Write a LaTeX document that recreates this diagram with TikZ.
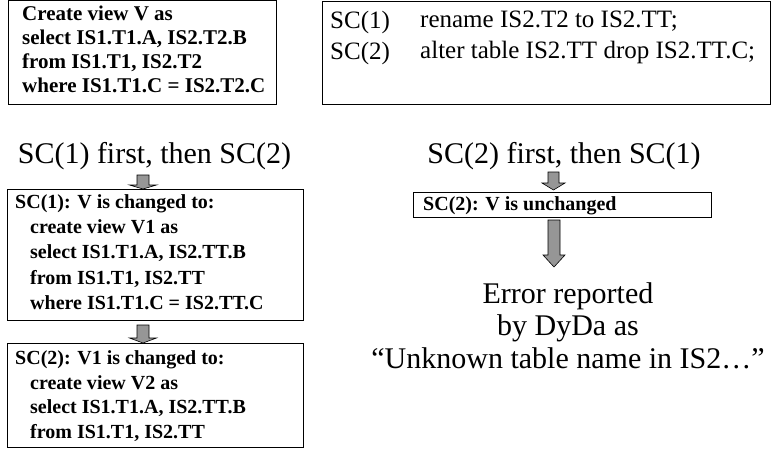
\documentclass[tikz,border=0pt]{standalone}
\usepackage{fontspec}
\setmainfont{Liberation Serif}
\definecolor{arrowgray}{RGB}{150,150,150}
\tikzset{
  box/.style={draw=black, line width=0.8pt, anchor=north west, inner sep=0pt},
  boxtext/.style={anchor=north west, inner sep=0pt, align=left},
  blockarrow/.style={draw=black, line width=0.6pt, fill=arrowgray, line join=miter}
}
% x, top, head start, tip, half shaft, half head
\newcommand{\garrow}[6]{%
  \draw[blockarrow] (#1-#5,#2) -- (#1+#5,#2) -- (#1+#5,#3) -- (#1+#6,#3)
    -- (#1,#4) -- (#1-#6,#3) -- (#1-#5,#3) -- cycle;}
\begin{document}
\begin{tikzpicture}[x=1pt,y=-1pt]
  \useasboundingbox (0,0) rectangle (776,450);
  % boxes
  \node[box, minimum width=268, minimum height=104] (view) at (8,0) {};
  \node[box, minimum width=448, minimum height=103] (sclist) at (322,1) {};
  \node[box, minimum width=296, minimum height=131] (change1) at (7,189) {};
  \node[box, minimum width=296, minimum height=104] (change2) at (7,343) {};
  \node[box, minimum width=298, minimum height=25] (unchanged) at (413,192) {};
  % box texts
  \node[boxtext, font=\fontsize{21}{24}\selectfont\bfseries] (viewtext) at (22,5.5)
    {Create view V as\\select IS1.T1.A, IS2.T2.B\\from IS1.T1, IS2.T2\\where IS1.T1.C = IS2.T2.C};
  \node[boxtext, font=\fontsize{25}{31}\selectfont] (sctext) at (330,11)
    {SC(1)\\SC(2)};
  \node[boxtext, font=\fontsize{25}{31}\selectfont] (sccmd) at (420,11)
    {rename IS2.T2 to IS2.TT;\\alter table IS2.TT drop IS2.TT.C;};
  \node[boxtext, font=\fontsize{20}{25.2}\selectfont\bfseries] (change1text) at (15,194.5)
    {SC(1): V is changed to:\\\hspace{15pt}create view V1 as\\\hspace{15pt}select IS1.T1.A, IS2.TT.B\\\hspace{15pt}from IS1.T1, IS2.TT\\\hspace{15pt}where IS1.T1.C = IS2.TT.C};
  \node[boxtext, font=\fontsize{20}{24.7}\selectfont\bfseries] (change2text) at (15,350.5)
    {SC(2): V1 is changed to:\\\hspace{15pt}create view V2 as\\\hspace{15pt}select IS1.T1.A, IS2.TT.B\\\hspace{15pt}from IS1.T1, IS2.TT};
  \node[boxtext, font=\fontsize{20}{24}\selectfont\bfseries] (unchangedtext) at (423,196.5)
    {SC(2): V is unchanged};
  % titles
  \node[anchor=base, inner sep=0pt, font=\fontsize{30}{33}\selectfont] (order1) at (154.5,163)
    {SC(1) first, then SC(2)};
  \node[anchor=base, inner sep=0pt, font=\fontsize{30}{33}\selectfont] (order2) at (564,163)
    {SC(2) first, then SC(1)};
  \node[anchor=north, inner sep=0pt, align=center, font=\fontsize{30}{32.5}\selectfont] (error) at (568,282)
    {Error reported\\by DyDa as\\``Unknown table name in IS2\dots''};
  % arrows
  \garrow{143}{175}{185}{189}{6}{13.5}
  \garrow{143}{325}{338}{343}{6}{13.5}
  \garrow{553.5}{172}{183}{190}{5.5}{11.5}
  \garrow{554}{220}{255}{267}{6}{11}
\end{tikzpicture}
\end{document}
